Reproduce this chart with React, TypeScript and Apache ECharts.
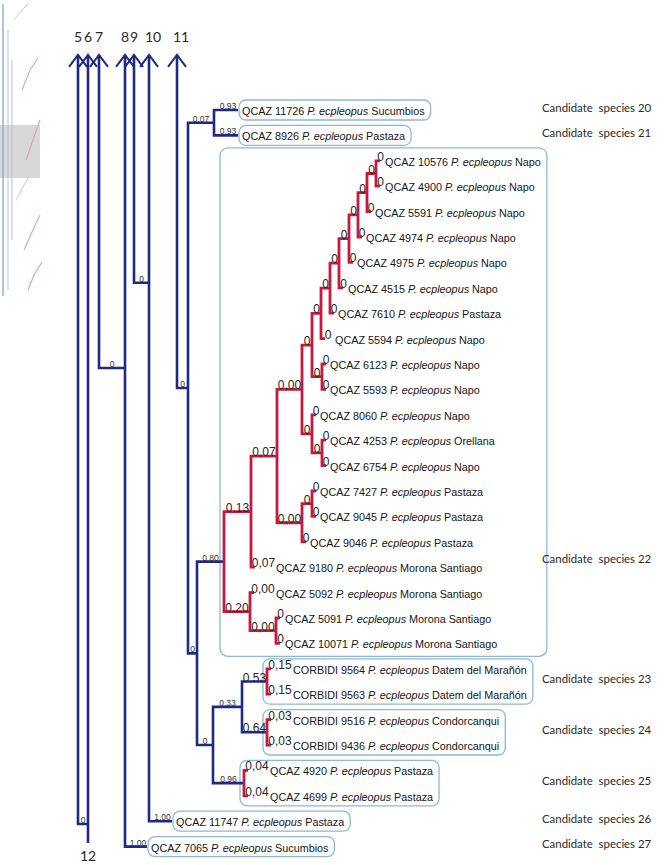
import React, { useEffect, useRef } from "react";
import * as echarts from "echarts";

// ---------------- data ----------------
const SPECIES = "P. ecpleopus";

// terminal taxa, top to bottom
const leafVoucher = [
  "QCAZ 11726", "QCAZ 8926", "QCAZ 10576", "QCAZ 4900", "QCAZ 5591", "QCAZ 4974",
  "QCAZ 4975", "QCAZ 4515", "QCAZ 7610", "QCAZ 5594", "QCAZ 6123", "QCAZ 5593",
  "QCAZ 8060", "QCAZ 4253", "QCAZ 6754", "QCAZ 7427", "QCAZ 9045", "QCAZ 9046",
  "QCAZ 9180", "QCAZ 5092", "QCAZ 5091", "QCAZ 10071", "CORBIDI 9564", "CORBIDI 9563",
  "CORBIDI 9516", "CORBIDI 9436", "QCAZ 4920", "QCAZ 4699", "QCAZ 11747", "QCAZ 7065",
];
const leafLocality = [
  "Sucumbios", "Pastaza", "Napo", "Napo", "Napo", "Napo",
  "Napo", "Napo", "Pastaza", "Napo", "Napo", "Napo",
  "Napo", "Orellana", "Napo", "Pastaza", "Pastaza", "Pastaza",
  "Morona Santiago", "Morona Santiago", "Morona Santiago", "Morona Santiago", "Datem del Marañón", "Datem del Marañón",
  "Condorcanqui", "Condorcanqui", "Pastaza", "Pastaza", "Pastaza", "Sucumbios",
];
const leafParent = [
  "a93", "a93", "A", "A", "B", "C", "D", "E", "F", "G", "H", "H", "V", "U", "U",
  "P", "P", "Q", "W", "Y", "Z", "Z", "K1", "K1", "K2", "K2", "K3", "K3", "b149", "b125",
];
const leafSupport = [
  "0.93", "0.93", "0", "0", "0", "0", "0", "0", "0", "0", "0", "0", "0", "0", "0",
  "0", "0", "0", "0,07", "0,00", "0", "0", "0,15", "0,15", "0,03", "0,03", "0,04", "0,04", "1.00", "1.00",
];
// depth (horizontal axis) where each terminal's name starts
const leafDepth = [
  242, 242, 385, 385, 375, 366, 357, 348, 338, 335, 330, 330, 320, 330, 330,
  320, 320, 310, 276, 276, 285, 285, 293, 293, 293, 293, 270, 270, 176, 151,
];

// internal nodes
const nodeId = [
  "b78", "b88", "b99", "b125", "b134", "b149", "b177", "b188", "a93", "b197",
  "X", "W", "R", "T", "S", "G", "F", "E", "D", "C", "B", "A", "H", "V", "U", "Q", "P", "Y", "Z",
  "b213", "b242", "K1", "K2", "K3",
];
const nodeParent = [
  "", "b78", "", "b99", "", "b134", "", "b177", "b188", "b188",
  "b197", "X", "W", "R", "T", "S", "G", "F", "E", "D", "C", "B", "S", "T", "V", "R", "Q", "X", "Y",
  "b197", "b213", "b242", "b242", "b213",
];
const nodeDepth = [
  78, 88, 99, 125, 134, 149, 177, 188, 214, 197,
  224, 251, 277, 302, 312, 321, 330, 339, 349, 358, 367, 376, 322, 312, 322, 302, 312, 250, 276,
  213, 242, 267, 267, 244,
];
const nodeSupport = [
  "", "0", "", "0", "", "0", "", "0", "0.07", "0",
  "0.80", "0,13", "0,07", "0,00", "0", "0", "0", "0", "0", "0", "0", "0", "0", "0", "0", "0,00", "0", "0,20", "0,00",
  "0", "0.33", "0.53", "0.64", "0.96",
];
// nodes whose other descendants lie outside the visible part of the tree (leaf-axis position)
const nodeFixedY: (number | null)[] = [
  null, 28.11, null, 10.16, null, 6.8, null, null, null, null,
  null, null, null, null, null, null, null, null, null, null, null, null, null, null, null, null, null, null, null,
  null, null, null, null, null,
];
const redClades = [
  "X", "W", "R", "T", "S", "G", "F", "E", "D", "C", "B", "A", "H", "V", "U", "Q", "P", "Y", "Z", "K1", "K2", "K3",
];

// lineages continuing outside the figure
const offViewLabel = ["5", "6", "7", "8", "9", "10", "11", "12"];
const offViewParent = ["b78", "b88", "b99", "b125", "b134", "b149", "b177", "b88"];
const offViewEnd = ["top", "top", "top", "top", "top", "top", "top", "bottom"];

// candidate species boxes
const candidateNumber = [20, 21, 22, 23, 24, 25, 26, 27];
const candidateClade = ["L0", "L1", "X", "K1", "K2", "K3", "L28", "L29"];

// ---------------- style ----------------
const NAVY = "#1f2b83";
const CRIMSON = "#c8183c";
const BOX = "#8fb7d8";
const INK = "#161616";
const TIP_FONT = '"Liberation Sans", Arial, sans-serif';
const DISPLAY_FONT = 'Lato, "Open Sans", sans-serif';
const TIP_SIZE = 10.8;
const TOP_EDGE = -2.17;
const BOTTOM_EDGE = 28.86;
const emphasised = new Set(["K1", "K2"]);

type TNode = {
  id: string; x: number; y: number; parent: string; support: string; red: boolean;
  fixed: number | null; children: TNode[]; leaf?: boolean; off?: string; label?: string; index?: number;
};

function buildTree() {
  const nodes = new Map<string, TNode>();
  nodeId.forEach((id, i) =>
    nodes.set(id, {
      id, x: nodeDepth[i], y: 0, parent: nodeParent[i], support: nodeSupport[i],
      red: redClades.includes(id), fixed: nodeFixedY[i], children: [],
    })
  );
  const leaves: TNode[] = leafVoucher.map((_, i) => ({
    id: "L" + i, x: leafDepth[i], y: i, parent: leafParent[i], support: leafSupport[i],
    red: false, fixed: null, children: [], leaf: true, index: i,
  }));
  nodeId.forEach((id, i) => {
    if (nodeParent[i]) nodes.get(nodeParent[i])!.children.push(nodes.get(id)!);
  });
  leaves.forEach((l) => nodes.get(l.parent)!.children.push(l));
  const offs: TNode[] = offViewLabel.map((lab, i) => {
    const p = nodes.get(offViewParent[i])!;
    const o: TNode = {
      id: "O" + i, x: p.x, y: offViewEnd[i] === "top" ? TOP_EDGE : BOTTOM_EDGE, parent: p.id,
      support: "", red: false, fixed: null, children: [], off: offViewEnd[i], label: lab,
    };
    p.children.push(o);
    return o;
  });
  const setY = (n: TNode): number => {
    if (n.leaf || n.off) return n.y;
    const ys = n.children.map(setY);
    n.y = n.fixed ?? (Math.min(...ys) + Math.max(...ys)) / 2;
    return n.y;
  };
  nodes.forEach((n) => { if (!n.parent) setY(n); });
  const all = new Map<string, TNode>(nodes);
  leaves.forEach((l) => all.set(l.id, l));
  return { internal: Array.from(nodes.values()), leaves, offs, all };
}

let measureCtx: CanvasRenderingContext2D | null = null;
function measure(text: string, italic: boolean) {
  if (!measureCtx) measureCtx = document.createElement("canvas").getContext("2d");
  if (!measureCtx) return text.length * 5.5;
  measureCtx.font = `${italic ? "italic " : ""}${TIP_SIZE}px "Liberation Sans", Arial, sans-serif`;
  return measureCtx.measureText(text).width;
}
function tipWidth(i: number) {
  return measure(leafVoucher[i] + " ", false) + measure(SPECIES, true) + measure(" " + leafLocality[i], false);
}
function leavesUnder(n: TNode): TNode[] {
  if (n.leaf) return [n];
  return n.children.flatMap((c) => (c.off ? [] : leavesUnder(c)));
}

function buildOption() {
  const { internal, leaves, offs, all } = buildTree();

  const supportLabels: { x: number; y: number; text: string; big: boolean }[] = [];
  internal.forEach((n) =>
    n.children.forEach((c) => {
      if (c.off || !c.support) return;
      supportLabels.push({ x: (n.x + c.x) / 2, y: c.y, text: c.support, big: n.red || emphasised.has(c.id) });
    })
  );

  const clades = candidateClade.map((id) => all.get(id)!);

  const base = { type: "custom", coordinateSystem: "cartesian2d", clip: false, silent: true } as any;

  return {
    animation: false,
    backgroundColor: "#ffffff",
    grid: { left: 0, top: 110, width: 664, height: 736.6, show: false },
    xAxis: { type: "value", min: 0, max: 664, show: false },
    yAxis: { type: "value", min: 0, max: 29, inverse: true, show: false },
    graphic: [
      { type: "rect", shape: { x: 0, y: 125, width: 40, height: 53 }, style: { fill: "#d8d8d8" }, z: -1 },
      { type: "line", shape: { x1: 3, y1: 4, x2: 3, y2: 296 }, style: { stroke: "#9aa6d4", lineWidth: 1.4 } },
      { type: "line", shape: { x1: 8, y1: 30, x2: 8, y2: 290 }, style: { stroke: "#b7bfe0", lineWidth: 1 } },
      { type: "line", shape: { x1: 12, y1: 60, x2: 12, y2: 240 }, style: { stroke: "#b7bfe0", lineWidth: 1 } },
      { type: "polyline", shape: { points: [[22, 90], [30, 70], [38, 58]] }, style: { stroke: "#e2a3b0", lineWidth: 1.2, fill: "none" } },
      { type: "polyline", shape: { points: [[26, 160], [33, 140], [40, 120]] }, style: { stroke: "#e2a3b0", lineWidth: 1.2, fill: "none" } },
      { type: "polyline", shape: { points: [[24, 250], [32, 232], [40, 215]] }, style: { stroke: "#e2a3b0", lineWidth: 1.2, fill: "none" } },
      { type: "polyline", shape: { points: [[28, 290], [34, 275], [42, 262]] }, style: { stroke: "#e2a3b0", lineWidth: 1.2, fill: "none" } },
      { type: "polyline", shape: { points: [[14, 20], [22, 10], [28, 4]] }, style: { stroke: "#c5cbe6", lineWidth: 1, fill: "none" } },
      { type: "polyline", shape: { points: [[16, 200], [24, 185], [30, 175]] }, style: { stroke: "#c5cbe6", lineWidth: 1, fill: "none" } },
    ],
    series: [
      // candidate species boxes
      {
        ...base,
        z: 1,
        data: clades.map((n) => [n.x, n.y]),
        renderItem: (params: any, api: any) => {
          const n = clades[params.dataIndex];
          const ls = leavesUnder(n);
          const ys = ls.map((l) => api.coord([0, l.y])[1]);
          const pad = ls.length > 2 ? 13 : 10;
          const left = n.leaf ? api.coord([n.x, n.y])[0] - 3 : api.coord([n.x, n.y])[0] - 4;
          const right = Math.max(...ls.map((l) => api.coord([l.x, l.y])[0] + tipWidth(l.index!))) + 6;
          const top = Math.min(...ys) - pad;
          const bottom = Math.max(...ys) + pad;
          return {
            type: "rect",
            shape: { x: left, y: top, width: right - left, height: bottom - top, r: ls.length > 2 ? 8 : 7 },
            style: { stroke: BOX, lineWidth: 1.3, fill: "none" },
          };
        },
      },
      // branches
      {
        ...base,
        z: 2,
        data: internal.map((n) => [n.x, n.y]),
        renderItem: (params: any, api: any) => {
          const n = internal[params.dataIndex];
          const kids = [...n.children].sort((a, b) => a.y - b.y);
          const c1 = kids[0];
          const c2 = kids[kids.length - 1];
          const nx = api.coord([n.x, 0])[0];
          const endPx = (c: TNode) =>
            c.off ? nx : c.leaf ? (n.red ? nx + 4 : api.coord([c.x, 0])[0] - 4) : api.coord([c.x, 0])[0];
          const y1 = api.coord([0, c1.y])[1];
          const y2 = api.coord([0, c2.y])[1];
          return {
            type: "polyline",
            shape: { points: [[endPx(c1), y1], [nx, y1], [nx, y2], [endPx(c2), y2]] },
            style: { stroke: n.red ? CRIMSON : NAVY, lineWidth: n.red ? 2.8 : 2.6, fill: "none", lineJoin: "miter" },
          };
        },
      },
      // off-view lineages (arrowheads and numbers)
      {
        ...base,
        z: 3,
        data: offs.map((o) => [o.x, o.y]),
        renderItem: (params: any, api: any) => {
          const o = offs[params.dataIndex];
          const [x, y] = api.coord([o.x, o.y]);
          if (o.off === "top") {
            return {
              type: "group",
              children: [
                {
                  type: "polyline",
                  shape: { points: [[x - 9, y + 12], [x, y], [x + 9, y + 12]] },
                  style: { stroke: NAVY, lineWidth: 2, fill: "none" },
                },
                {
                  type: "text",
                  x: x + (o.label!.length > 1 ? 4 : 0),
                  y: y - 11,
                  style: {
                    text: o.label, fill: "#2a2a2a", fontSize: 14, fontFamily: DISPLAY_FONT,
                    align: "center", verticalAlign: "bottom",
                  },
                },
              ],
            };
          }
          return {
            type: "text",
            x,
            y: y + 5,
            style: {
              text: o.label, fill: "#2a2a2a", fontSize: 14, fontFamily: DISPLAY_FONT,
              align: "center", verticalAlign: "top",
            },
          };
        },
      },
      // support values
      {
        ...base,
        z: 4,
        data: supportLabels.map((s) => [s.x, s.y]),
        renderItem: (params: any, api: any) => {
          const s = supportLabels[params.dataIndex];
          const [x, y] = api.coord([s.x, s.y]);
          return {
            type: "text",
            x,
            y: s.big ? y + 2 : y + 0.5,
            style: {
              text: s.text, fill: s.big ? "#262626" : "#333333", fontSize: s.big ? 12 : 8.5,
              fontFamily: TIP_FONT, align: "center", verticalAlign: "bottom",
            },
          };
        },
      },
      // terminal names
      {
        ...base,
        z: 5,
        data: leaves.map((l) => [l.x, l.y]),
        renderItem: (params: any, api: any) => {
          const i = params.dataIndex;
          const [x, y] = api.coord([leaves[i].x, leaves[i].y]);
          return {
            type: "text",
            x,
            y: y + 1,
            style: {
              text: `{n|${leafVoucher[i]} }{i|${SPECIES}}{n| ${leafLocality[i]}}`,
              align: "left",
              verticalAlign: "middle",
              rich: {
                n: { fontSize: TIP_SIZE, fontFamily: TIP_FONT, fill: INK },
                i: { fontSize: TIP_SIZE, fontFamily: TIP_FONT, fontStyle: "italic", fill: INK },
              },
            },
          };
        },
      },
      // candidate species labels
      {
        ...base,
        z: 5,
        data: clades.map((n) => [n.x, n.y]),
        renderItem: (params: any, api: any) => {
          const n = clades[params.dataIndex];
          const y = api.coord([0, n.y])[1];
          return {
            type: "text",
            x: 542,
            y: y - 3,
            style: {
              text: `Candidate  species ${candidateNumber[params.dataIndex]}`,
              fill: "#2a2a2a", fontSize: 11.4, fontFamily: DISPLAY_FONT,
              align: "left", verticalAlign: "middle",
            },
          };
        },
      },
    ],
  };
}

export default function App() {
  const ref = useRef<HTMLDivElement>(null);
  useEffect(() => {
    if (!ref.current) return;
    const chart = echarts.init(ref.current, undefined, { renderer: "svg" });
    chart.setOption(buildOption() as any);
    return () => chart.dispose();
  }, []);
  return (
    <div
      ref={ref}
      style={{ position: "absolute", left: 0, top: 0, width: 664, height: 865, background: "#ffffff" }}
    />
  );
}
